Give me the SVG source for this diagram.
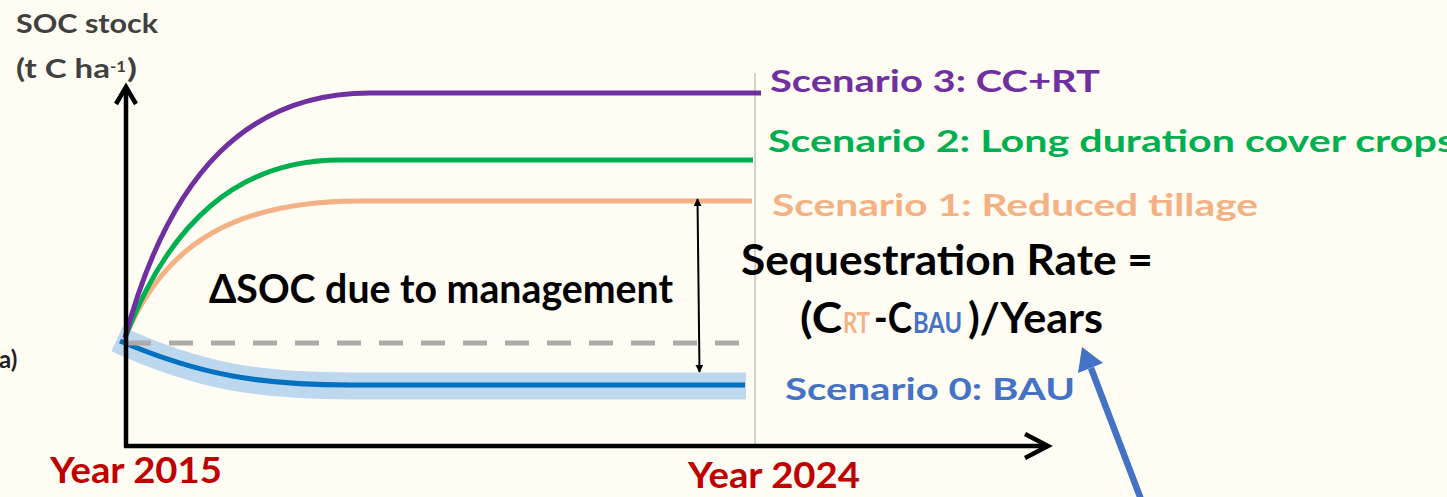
<svg xmlns="http://www.w3.org/2000/svg" width="1447" height="497" viewBox="0 0 1447 497">
<style>
.lbl{font-family:Lato,"Open Sans","Liberation Sans",sans-serif;font-weight:700}
.ax{fill:none;stroke:#000;stroke-width:4.5;stroke-linecap:butt}
.sc{font-family:Lato,"Noto Sans","Liberation Sans",sans-serif;font-weight:700;font-size:31px}
.curve{fill:none;stroke-width:5}
</style>
<defs>
<marker id="tri" viewBox="0 0 10 10" refX="9" refY="5" markerWidth="8" markerHeight="8" markerUnits="userSpaceOnUse" orient="auto-start-reverse">
<path d="M0,0 L10,5 L0,10 z" fill="#000"/>
</marker>
</defs>
<rect width="1447" height="497" fill="#FEFCF3"/>

<g id="gridline">
<line x1="755" y1="73" x2="755" y2="446" stroke="#D3D1CB" stroke-width="2"/>
</g>

<g id="series">
<path d="M117,339 C200,377 260,386 350,386 L746,386" fill="none" stroke="#BDD7EE" stroke-width="27"/>
<path d="M120,341 C200,375 260,385 350,385 L745,385" class="curve" stroke="#0070C0" stroke-width="6"/>
<line x1="127" y1="343" x2="739" y2="343" stroke="#AEAAAA" stroke-width="5" stroke-dasharray="24 18"/>
<path d="M125,338 C165,240 240,201 360,201 L752,201" class="curve" stroke="#F4B183"/>
<path d="M125,338 C170,220 240,160 340,160 L753,160" class="curve" stroke="#00B050"/>
<path d="M125,338 C170,170 250,93 370,93 L761,93" class="curve" stroke="#7030A0"/>
</g>

<g id="connectors">
<line x1="126" y1="447" x2="126" y2="87" class="ax"/>
<polyline points="116,104 126,87 136,104" class="ax"/>
<line x1="124" y1="446" x2="1048" y2="446" class="ax"/>
<polyline points="1025,434 1048,446 1025,458" class="ax"/>
<line x1="697.5" y1="199" x2="699.5" y2="372" stroke="#000" stroke-width="2" marker-start="url(#tri)" marker-end="url(#tri)"/>
<line x1="1142" y1="502" x2="1091" y2="368" stroke="#4472C4" stroke-width="6.5"/>
<polygon points="1082,347 1078,373 1103,363" fill="#4472C4"/>
</g>

<g id="axis-title">
<text class="lbl" x="16" y="33" font-size="27" fill="#404040" textLength="142" lengthAdjust="spacingAndGlyphs">SOC stock</text>
<text class="lbl" x="16" y="78" font-size="27" fill="#404040" textLength="94" lengthAdjust="spacingAndGlyphs">(t C ha</text>
<text class="lbl" x="110" y="72" font-size="15" fill="#404040" textLength="16" lengthAdjust="spacingAndGlyphs">-1</text>
<text class="lbl" x="127" y="78" font-size="27" fill="#404040" textLength="10" lengthAdjust="spacingAndGlyphs">)</text>
</g>

<g id="panel-label">
<text class="lbl" x="-1" y="368" font-size="24" fill="#222">a)</text>
</g>

<g id="year-2015">
<text class="lbl" x="50" y="483" font-size="36" fill="#C00000" textLength="172" lengthAdjust="spacingAndGlyphs">Year 2015</text>
</g>
<g id="year-2024">
<text class="lbl" x="688" y="488" font-size="36" fill="#C00000" textLength="172" lengthAdjust="spacingAndGlyphs">Year 2024</text>
</g>

<g id="scenario-3">
<text class="sc" x="770" y="92" fill="#7030A0" textLength="330" lengthAdjust="spacingAndGlyphs">Scenario 3: CC+RT</text>
</g>
<g id="scenario-2">
<text class="sc" x="768" y="152" fill="#00B050" textLength="687" lengthAdjust="spacingAndGlyphs">Scenario 2: Long duration cover crops</text>
</g>
<g id="scenario-1">
<text class="sc" x="772" y="216" fill="#F4B183" textLength="486" lengthAdjust="spacingAndGlyphs">Scenario 1: Reduced tillage</text>
</g>
<g id="scenario-0">
<text class="sc" x="785" y="400" fill="#4472C4" textLength="290" lengthAdjust="spacingAndGlyphs">Scenario 0: BAU</text>
</g>

<g id="delta-soc">
<text class="lbl" x="209" y="303" font-size="40" fill="#000" textLength="464" lengthAdjust="spacingAndGlyphs">ΔSOC due to management</text>
</g>

<g id="sequestration-rate">
<text class="lbl" x="741" y="275" font-size="42" fill="#000" textLength="412" lengthAdjust="spacingAndGlyphs">Sequestration Rate =</text>
<text class="lbl" x="800" y="333" font-size="42" fill="#000" textLength="42" lengthAdjust="spacingAndGlyphs">(C</text>
<text class="lbl" x="843" y="333" font-size="28" fill="#F4B183" textLength="27" lengthAdjust="spacingAndGlyphs">RT</text>
<text class="lbl" x="874" y="333" font-size="42" fill="#000" textLength="38" lengthAdjust="spacingAndGlyphs">-C</text>
<text class="lbl" x="913" y="333" font-size="28" fill="#4472C4" textLength="49" lengthAdjust="spacingAndGlyphs">BAU</text>
<text class="lbl" x="968" y="333" font-size="42" fill="#000" textLength="135" lengthAdjust="spacingAndGlyphs">)/Years</text>
</g>
</svg>
